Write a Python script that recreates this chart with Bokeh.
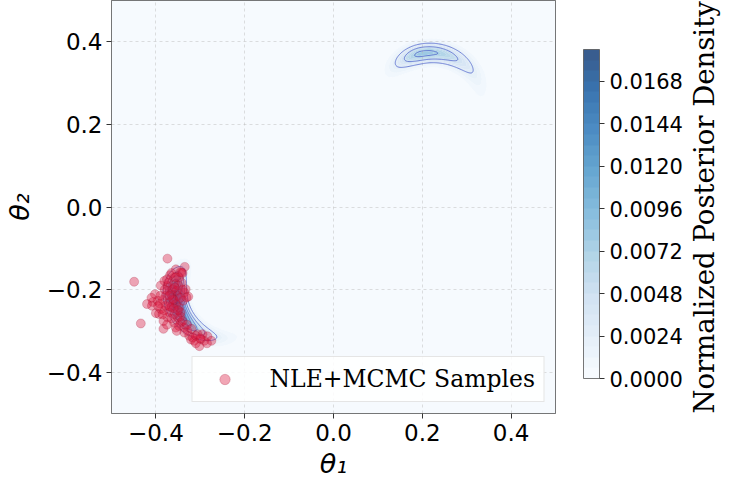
import numpy as np
from bokeh.plotting import figure
from bokeh.models import (ColorBar, LinearColorMapper, FixedTicker, NumeralTickFormatter,
                          Legend, LegendItem, LinearAxis)
from bokeh.palettes import Blues256
from bokeh.embed import file_html
from bokeh.resources import INLINE

# ---------------- data ----------------
samples_x = [-0.374, -0.449, -0.434, -0.383, -0.335, -0.342, -0.368, -0.348, -0.389, -0.374,
             -0.359, -0.333, -0.336, -0.327, -0.402, -0.366, -0.351, -0.407, -0.409, -0.396,
             -0.385, -0.370, -0.339, -0.355, -0.393, -0.400, -0.381, -0.366, -0.359, -0.351,
             -0.344, -0.348, -0.336, -0.340, -0.325, -0.321, -0.306, -0.295, -0.284, -0.275,
             -0.302, -0.291, -0.314, -0.370, -0.374, -0.362, -0.381, -0.355, -0.345, -0.359,
             -0.378, -0.362, -0.348, -0.374, -0.359, -0.329, -0.336, -0.317, -0.389, -0.331,
             -0.391, -0.372, -0.353, -0.342, -0.378, -0.344, -0.355, -0.383, -0.299, -0.310,
             -0.365, -0.350, -0.380, -0.360, -0.345, -0.370, -0.355, -0.390, -0.375, -0.340,
             -0.330, -0.320, -0.385, -0.360, -0.350, -0.340, -0.365, -0.395, -0.410, -0.420,
             -0.375, -0.300, -0.285, -0.310, -0.353, -0.345, -0.358, -0.370]
samples_y = [-0.125, -0.181, -0.282, -0.295, -0.145, -0.159, -0.165, -0.171, -0.190, -0.191,
             -0.187, -0.199, -0.207, -0.217, -0.211, -0.211, -0.215, -0.230, -0.239, -0.227,
             -0.225, -0.231, -0.227, -0.235, -0.259, -0.257, -0.251, -0.243, -0.259, -0.267,
             -0.280, -0.288, -0.292, -0.276, -0.312, -0.321, -0.308, -0.308, -0.313, -0.324,
             -0.337, -0.324, -0.324, -0.255, -0.203, -0.199, -0.179, -0.151, -0.158, -0.171,
             -0.215, -0.223, -0.243, -0.267, -0.280, -0.300, -0.304, -0.316, -0.247, -0.219,
             -0.234, -0.183, -0.203, -0.183, -0.239, -0.255, -0.292, -0.276, -0.320, -0.312,
             -0.160, -0.190, -0.200, -0.245, -0.265, -0.240, -0.170, -0.215, -0.175, -0.200,
             -0.285, -0.295, -0.260, -0.225, -0.250, -0.160, -0.270, -0.240, -0.220, -0.235,
             -0.285, -0.318, -0.330, -0.330, -0.300, -0.220, -0.195, -0.215]

# posterior crescents (lower, upper)
crescent_cx = [-0.245, 0.22]
crescent_cy = [-0.205, 0.26]
crescent_radius = [0.112, 0.113]
crescent_width = [0.0135, 0.0155]
crescent_angle = [185.0, 100.0]       # degrees, location of the density peak along the arc
crescent_spread_low = [18.5, 42.0]    # spread toward smaller angles
crescent_spread_high = [38.0, 22.0]   # spread toward larger angles
crescent_peak = [0.0184, 0.0082]

cbar_low, cbar_high, cbar_step = 0.0, 0.0186, 0.0006
cbar_ticks = [0.0, 0.0024, 0.0048, 0.0072, 0.0096, 0.0120, 0.0144, 0.0168]
line_levels = [0.0025, 0.0050, 0.0075, 0.0100, 0.0125, 0.0150, 0.0175]
axis_ticks = [-0.4, -0.2, 0.0, 0.2, 0.4]
axis_tick_labels = ["\u22120.4", "\u22120.2", "0.0", "0.2", "0.4"]
cbar_title = "Normalized Posterior Density"
legend_label = "NLE+MCMC Samples"

# ---------------- density grid ----------------
gx = np.linspace(-0.5, 0.5, 401)
gy = np.linspace(-0.5, 0.5, 401)
XX, YY = np.meshgrid(gx, gy)
Z = np.zeros_like(XX)
for cx, cy, R, w, a0, sl, sh, pk in zip(crescent_cx, crescent_cy, crescent_radius, crescent_width,
                                        crescent_angle, crescent_spread_low, crescent_spread_high,
                                        crescent_peak):
    dx, dy = XX - cx, YY - cy
    r = np.hypot(dx, dy)
    th = np.degrees(np.arctan2(dy, dx))
    d = (th - a0 + 180.0) % 360.0 - 180.0
    s = np.where(d < 0, sl, sh)
    Z += pk * np.exp(-(r - R) ** 2 / (2 * w ** 2)) * np.exp(-d ** 2 / (2 * s ** 2))

n_bands = int(round((cbar_high - cbar_low) / cbar_step))
fill_levels = [cbar_low + i * cbar_step for i in range(n_bands + 1)]
fill_levels[0] = -1e-6
blues = list(reversed(Blues256))
fill_palette = [blues[int((i + 0.5) / n_bands * 255)] for i in range(n_bands)]

# ---------------- main figure ----------------
p = figure(frame_width=444, frame_height=413, output_backend="svg", toolbar_location=None,
           x_range=(-0.5, 0.5), y_range=(-0.5, 0.5),
           min_border_left=102, min_border_right=167, min_border_top=0, min_border_bottom=53)
p.background_fill_color = "white"
p.border_fill_color = "white"
p.outline_line_color = "#555555"
p.outline_line_width = 1

cf = p.contour(gx, gy, Z, levels=fill_levels, fill_color=fill_palette, fill_alpha=0.8,
               line_color=None)
cf.level = "image"
cl = p.contour(gx, gy, Z, levels=line_levels, fill_color=None, line_color="#4f63cc",
               line_alpha=0.85, line_width=0.9)

sc = p.scatter(samples_x, samples_y, size=9, fill_color="crimson", fill_alpha=0.38,
               line_color="#a3102e", line_alpha=0.4, line_width=0.6)

for ax in (p.xaxis, p.yaxis):
    ax.ticker = FixedTicker(ticks=axis_ticks)
    ax.major_label_overrides = dict(zip(axis_ticks, axis_tick_labels))
    ax.major_label_text_font = "DejaVu Sans"
    ax.major_label_text_font_size = "23px"
    ax.major_label_text_color = "black"
    ax.axis_line_color = None
    ax.major_tick_out = 5
    ax.major_tick_in = 0
    ax.major_tick_line_color = "#333333"
    ax.minor_tick_line_color = None
    ax.axis_label_text_font = "DejaVu Sans"
    ax.axis_label_text_font_style = "italic"
    ax.axis_label_text_font_size = "27px"
    ax.axis_label_text_color = "black"
p.xaxis.axis_label = "\u03b8\u2081"
p.yaxis.axis_label = "\u03b8\u2082"
p.xaxis.major_label_standoff = 5
p.yaxis.major_label_standoff = 4
p.xaxis.axis_label_standoff = 4
p.yaxis.axis_label_standoff = 9

p.grid.ticker = FixedTicker(ticks=axis_ticks)
p.grid.grid_line_color = "#bbbbbb"
p.grid.grid_line_alpha = 0.6
p.grid.grid_line_dash = "3 3"
p.grid.grid_line_width = 0.8

mapper = LinearColorMapper(palette=fill_palette, low=cbar_low, high=cbar_high)
cb = ColorBar(color_mapper=mapper, scale_alpha=0.8, width=16, height=329,
              location=(28, 35), padding=0, margin=0,
              ticker=FixedTicker(ticks=cbar_ticks),
              formatter=NumeralTickFormatter(format="0.0000"),
              major_label_text_font="DejaVu Sans", major_label_text_font_size="21px",
              major_label_text_color="black", label_standoff=5,
              major_tick_out=5, major_tick_in=0, major_tick_line_color="#333333",
              bar_line_color="#555555", bar_line_width=1,
              border_line_color=None, background_fill_color=None)
p.add_layout(cb, "right")

# colour-bar title, drawn as the label of a tick-less axis on the right
title_axis = LinearAxis(axis_label=cbar_title, ticker=FixedTicker(ticks=[]),
                        axis_line_color=None, major_tick_line_color=None,
                        minor_tick_line_color=None, major_label_text_font_size="0px",
                        axis_label_text_font="DejaVu Serif", axis_label_text_font_size="27.5px",
                        axis_label_text_font_style="normal",
                        axis_label_text_color="black", axis_label_standoff=18)
_props = LinearAxis.properties()
if "axis_label_orientation" in _props:
    title_axis.axis_label_orientation = np.pi / 2
if "axis_label_align" in _props:
    title_axis.axis_label_align = "start"
p.add_layout(title_axis, "right")

legend = Legend(items=[LegendItem(label=legend_label, renderers=[sc])],
                location="bottom_right", margin=11, padding=8, spacing=0,
                glyph_width=48, glyph_height=26, label_height=26, label_standoff=21,
                label_text_font="DejaVu Serif", label_text_font_size="23.5px",
                label_text_color="black",
                background_fill_color="white", background_fill_alpha=0.85,
                border_line_color="#cccccc", border_line_width=1)
p.add_layout(legend)

open("out.html", "w").write(file_html(p, INLINE))
